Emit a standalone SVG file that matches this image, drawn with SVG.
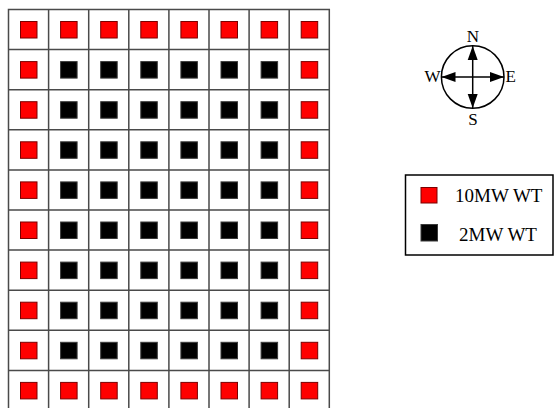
<svg xmlns="http://www.w3.org/2000/svg" width="557" height="408" viewBox="0 0 557 408">
<style>
.grid{fill:none;stroke:#4a4a4a;stroke-width:1.5}
.r{fill:#ff0000;stroke:#7a0000;stroke-width:1}
.b{fill:#000000;stroke:#3a3a3a;stroke-width:1}
.t{font-family:"Liberation Serif","Times New Roman",serif;fill:#000}
.ax{stroke:#000;stroke-width:1.5;fill:none}
</style>
<defs>
<marker id="ah" markerUnits="userSpaceOnUse" markerWidth="15" markerHeight="11" refX="14" refY="5.5" orient="auto-start-reverse"><path d="M0,0.5 L14,5.5 L0,10.5 z" fill="#000"/></marker>
</defs>
<rect width="557" height="408" fill="#fff"/>
<g id="grid">
<path class="grid" d="M8.5,9.5H329.3V410.5H8.5Z M48.6,9.5V410.5 M88.7,9.5V410.5 M128.8,9.5V410.5 M168.9,9.5V410.5 M209,9.5V410.5 M249.1,9.5V410.5 M289.2,9.5V410.5 M8.5,49.6H329.3 M8.5,89.7H329.3 M8.5,129.8H329.3 M8.5,169.9H329.3 M8.5,210H329.3 M8.5,250.1H329.3 M8.5,290.2H329.3 M8.5,330.3H329.3 M8.5,370.4H329.3"/>
</g>
<g id="turbines">
<g id="wt-0-0"><rect class="r" x="20.5" y="21.5" width="16.5" height="16.5"/></g>
<g id="wt-0-1"><rect class="r" x="60.6" y="21.5" width="16.5" height="16.5"/></g>
<g id="wt-0-2"><rect class="r" x="100.7" y="21.5" width="16.5" height="16.5"/></g>
<g id="wt-0-3"><rect class="r" x="140.8" y="21.5" width="16.5" height="16.5"/></g>
<g id="wt-0-4"><rect class="r" x="180.9" y="21.5" width="16.5" height="16.5"/></g>
<g id="wt-0-5"><rect class="r" x="221" y="21.5" width="16.5" height="16.5"/></g>
<g id="wt-0-6"><rect class="r" x="261.1" y="21.5" width="16.5" height="16.5"/></g>
<g id="wt-0-7"><rect class="r" x="301.2" y="21.5" width="16.5" height="16.5"/></g>

<g id="wt-1-0"><rect class="r" x="20.5" y="61.6" width="16.5" height="16.5"/></g>
<g id="wt-1-1"><rect class="b" x="60.6" y="61.6" width="16.5" height="16.5"/></g>
<g id="wt-1-2"><rect class="b" x="100.7" y="61.6" width="16.5" height="16.5"/></g>
<g id="wt-1-3"><rect class="b" x="140.8" y="61.6" width="16.5" height="16.5"/></g>
<g id="wt-1-4"><rect class="b" x="180.9" y="61.6" width="16.5" height="16.5"/></g>
<g id="wt-1-5"><rect class="b" x="221" y="61.6" width="16.5" height="16.5"/></g>
<g id="wt-1-6"><rect class="b" x="261.1" y="61.6" width="16.5" height="16.5"/></g>
<g id="wt-1-7"><rect class="r" x="301.2" y="61.6" width="16.5" height="16.5"/></g>

<g id="wt-2-0"><rect class="r" x="20.5" y="101.7" width="16.5" height="16.5"/></g>
<g id="wt-2-1"><rect class="b" x="60.6" y="101.7" width="16.5" height="16.5"/></g>
<g id="wt-2-2"><rect class="b" x="100.7" y="101.7" width="16.5" height="16.5"/></g>
<g id="wt-2-3"><rect class="b" x="140.8" y="101.7" width="16.5" height="16.5"/></g>
<g id="wt-2-4"><rect class="b" x="180.9" y="101.7" width="16.5" height="16.5"/></g>
<g id="wt-2-5"><rect class="b" x="221" y="101.7" width="16.5" height="16.5"/></g>
<g id="wt-2-6"><rect class="b" x="261.1" y="101.7" width="16.5" height="16.5"/></g>
<g id="wt-2-7"><rect class="r" x="301.2" y="101.7" width="16.5" height="16.5"/></g>

<g id="wt-3-0"><rect class="r" x="20.5" y="141.8" width="16.5" height="16.5"/></g>
<g id="wt-3-1"><rect class="b" x="60.6" y="141.8" width="16.5" height="16.5"/></g>
<g id="wt-3-2"><rect class="b" x="100.7" y="141.8" width="16.5" height="16.5"/></g>
<g id="wt-3-3"><rect class="b" x="140.8" y="141.8" width="16.5" height="16.5"/></g>
<g id="wt-3-4"><rect class="b" x="180.9" y="141.8" width="16.5" height="16.5"/></g>
<g id="wt-3-5"><rect class="b" x="221" y="141.8" width="16.5" height="16.5"/></g>
<g id="wt-3-6"><rect class="b" x="261.1" y="141.8" width="16.5" height="16.5"/></g>
<g id="wt-3-7"><rect class="r" x="301.2" y="141.8" width="16.5" height="16.5"/></g>

<g id="wt-4-0"><rect class="r" x="20.5" y="181.9" width="16.5" height="16.5"/></g>
<g id="wt-4-1"><rect class="b" x="60.6" y="181.9" width="16.5" height="16.5"/></g>
<g id="wt-4-2"><rect class="b" x="100.7" y="181.9" width="16.5" height="16.5"/></g>
<g id="wt-4-3"><rect class="b" x="140.8" y="181.9" width="16.5" height="16.5"/></g>
<g id="wt-4-4"><rect class="b" x="180.9" y="181.9" width="16.5" height="16.5"/></g>
<g id="wt-4-5"><rect class="b" x="221" y="181.9" width="16.5" height="16.5"/></g>
<g id="wt-4-6"><rect class="b" x="261.1" y="181.9" width="16.5" height="16.5"/></g>
<g id="wt-4-7"><rect class="r" x="301.2" y="181.9" width="16.5" height="16.5"/></g>

<g id="wt-5-0"><rect class="r" x="20.5" y="222" width="16.5" height="16.5"/></g>
<g id="wt-5-1"><rect class="b" x="60.6" y="222" width="16.5" height="16.5"/></g>
<g id="wt-5-2"><rect class="b" x="100.7" y="222" width="16.5" height="16.5"/></g>
<g id="wt-5-3"><rect class="b" x="140.8" y="222" width="16.5" height="16.5"/></g>
<g id="wt-5-4"><rect class="b" x="180.9" y="222" width="16.5" height="16.5"/></g>
<g id="wt-5-5"><rect class="b" x="221" y="222" width="16.5" height="16.5"/></g>
<g id="wt-5-6"><rect class="b" x="261.1" y="222" width="16.5" height="16.5"/></g>
<g id="wt-5-7"><rect class="r" x="301.2" y="222" width="16.5" height="16.5"/></g>

<g id="wt-6-0"><rect class="r" x="20.5" y="262.1" width="16.5" height="16.5"/></g>
<g id="wt-6-1"><rect class="b" x="60.6" y="262.1" width="16.5" height="16.5"/></g>
<g id="wt-6-2"><rect class="b" x="100.7" y="262.1" width="16.5" height="16.5"/></g>
<g id="wt-6-3"><rect class="b" x="140.8" y="262.1" width="16.5" height="16.5"/></g>
<g id="wt-6-4"><rect class="b" x="180.9" y="262.1" width="16.5" height="16.5"/></g>
<g id="wt-6-5"><rect class="b" x="221" y="262.1" width="16.5" height="16.5"/></g>
<g id="wt-6-6"><rect class="b" x="261.1" y="262.1" width="16.5" height="16.5"/></g>
<g id="wt-6-7"><rect class="r" x="301.2" y="262.1" width="16.5" height="16.5"/></g>

<g id="wt-7-0"><rect class="r" x="20.5" y="302.2" width="16.5" height="16.5"/></g>
<g id="wt-7-1"><rect class="b" x="60.6" y="302.2" width="16.5" height="16.5"/></g>
<g id="wt-7-2"><rect class="b" x="100.7" y="302.2" width="16.5" height="16.5"/></g>
<g id="wt-7-3"><rect class="b" x="140.8" y="302.2" width="16.5" height="16.5"/></g>
<g id="wt-7-4"><rect class="b" x="180.9" y="302.2" width="16.5" height="16.5"/></g>
<g id="wt-7-5"><rect class="b" x="221" y="302.2" width="16.5" height="16.5"/></g>
<g id="wt-7-6"><rect class="b" x="261.1" y="302.2" width="16.5" height="16.5"/></g>
<g id="wt-7-7"><rect class="r" x="301.2" y="302.2" width="16.5" height="16.5"/></g>

<g id="wt-8-0"><rect class="r" x="20.5" y="342.3" width="16.5" height="16.5"/></g>
<g id="wt-8-1"><rect class="b" x="60.6" y="342.3" width="16.5" height="16.5"/></g>
<g id="wt-8-2"><rect class="b" x="100.7" y="342.3" width="16.5" height="16.5"/></g>
<g id="wt-8-3"><rect class="b" x="140.8" y="342.3" width="16.5" height="16.5"/></g>
<g id="wt-8-4"><rect class="b" x="180.9" y="342.3" width="16.5" height="16.5"/></g>
<g id="wt-8-5"><rect class="b" x="221" y="342.3" width="16.5" height="16.5"/></g>
<g id="wt-8-6"><rect class="b" x="261.1" y="342.3" width="16.5" height="16.5"/></g>
<g id="wt-8-7"><rect class="r" x="301.2" y="342.3" width="16.5" height="16.5"/></g>

<g id="wt-9-0"><rect class="r" x="20.5" y="382.4" width="16.5" height="16.5"/></g>
<g id="wt-9-1"><rect class="r" x="60.6" y="382.4" width="16.5" height="16.5"/></g>
<g id="wt-9-2"><rect class="r" x="100.7" y="382.4" width="16.5" height="16.5"/></g>
<g id="wt-9-3"><rect class="r" x="140.8" y="382.4" width="16.5" height="16.5"/></g>
<g id="wt-9-4"><rect class="r" x="180.9" y="382.4" width="16.5" height="16.5"/></g>
<g id="wt-9-5"><rect class="r" x="221" y="382.4" width="16.5" height="16.5"/></g>
<g id="wt-9-6"><rect class="r" x="261.1" y="382.4" width="16.5" height="16.5"/></g>
<g id="wt-9-7"><rect class="r" x="301.2" y="382.4" width="16.5" height="16.5"/></g>
</g>
<g id="compass">
<circle cx="472.7" cy="77" r="31.3" fill="none" stroke="#000" stroke-width="1.5"/>
<line class="ax" x1="472.7" y1="46" x2="472.7" y2="108" marker-start="url(#ah)" marker-end="url(#ah)"/>
<line class="ax" x1="441.5" y1="77" x2="504" y2="77" marker-start="url(#ah)" marker-end="url(#ah)"/>
<text class="t" x="473" y="42" font-size="17" text-anchor="middle">N</text>
<text class="t" x="473" y="125" font-size="17" text-anchor="middle">S</text>
<text class="t" x="440.5" y="82" font-size="17" text-anchor="end">W</text>
<text class="t" x="505.5" y="82" font-size="17">E</text>
</g>
<g id="legend">
<rect x="405.5" y="175" width="147.5" height="80" fill="#fff" stroke="#000" stroke-width="1.5"/>
<rect x="421" y="187.5" width="16" height="15.5" fill="#ff0000" stroke="#7a0000" stroke-width="1"/>
<text class="t" x="455" y="202" font-size="19">10MW WT</text>
<rect x="421" y="224.5" width="16.5" height="16.5" fill="#000" stroke="#3a3a3a" stroke-width="1"/>
<text class="t" x="459" y="241" font-size="19">2MW WT</text>
</g>
</svg>
